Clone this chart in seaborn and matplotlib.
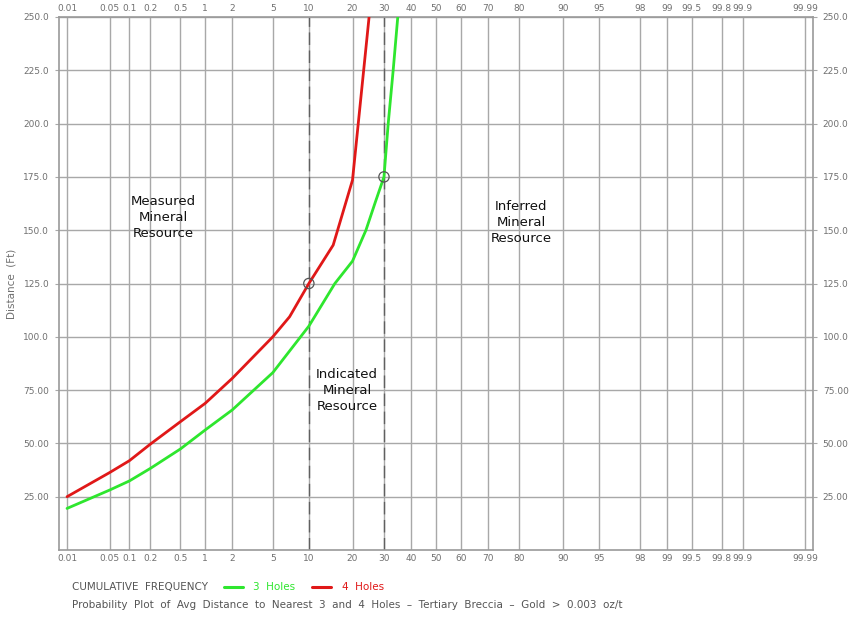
import numpy as np
import pandas as pd
import matplotlib
matplotlib.use("Agg")
import matplotlib.pyplot as plt
import seaborn as sns
from statistics import NormalDist

# ---- data ----
prob_ticks = [0.01, 0.05, 0.1, 0.2, 0.5, 1, 2, 5, 10, 20, 30, 40, 50, 60, 70, 80,
              90, 95, 98, 99, 99.5, 99.8, 99.9, 99.99]
prob_labels = ["0.01", "0.05", "0.1", "0.2", "0.5", "1", "2", "5", "10", "20", "30", "40",
               "50", "60", "70", "80", "90", "95", "98", "99", "99.5", "99.8", "99.9", "99.99"]
y_ticks = [25, 50, 75, 100, 125, 150, 175, 200, 225, 250]
y_labels = ["25.00", "50.00", "75.00", "100.0", "125.0", "150.0", "175.0", "200.0", "225.0", "250.0"]

green_pct = [0.01, 0.05, 0.1, 0.2, 0.5, 1, 2, 5, 10, 15.4, 20, 24, 27, 30, 31.5, 33.3, 35]
green_dist = [19.5, 28.1, 32.4, 38.3, 47.4, 56.3, 65.7, 83.2, 105, 125, 135.5, 150, 163, 175, 200, 225, 250]
red_pct = [0.01, 0.05, 0.1, 0.2, 0.5, 1, 2, 5, 7, 10, 15, 20, 25]
red_dist = [25, 36.3, 41.9, 49.7, 60.2, 68.8, 80.5, 100, 109.4, 125, 143, 173.5, 250]
marker_pct = [10, 30]
marker_dist = [125, 175]
boundary_pct = [10, 30]

zones = ["Measured\nMineral\nResource", "Indicated\nMineral\nResource", "Inferred\nMineral\nResource"]
zone_pct = [0.3, 18.5, 80.4]
zone_dist = [156, 75, 153.4]

df = pd.concat([
    pd.DataFrame({"pct": green_pct, "dist": green_dist, "series": "3 Holes"}),
    pd.DataFrame({"pct": red_pct, "dist": red_dist, "series": "4 Holes"}),
])

ND = NormalDist()
_ppf = np.vectorize(lambda p: ND.inv_cdf(p) if np.isfinite(p) else np.nan, otypes=[float])
_cdf = np.vectorize(lambda z: ND.cdf(z) if np.isfinite(z) else np.nan, otypes=[float])


def fwd(x):
    x = np.asarray(x, dtype=float)
    p = np.clip(x / 100.0, 1e-12, 1 - 1e-12)
    return _ppf(p)


def inv(z):
    return _cdf(np.asarray(z, dtype=float)) * 100.0


GREEN = "#2ee62e"
RED = "#e01818"
GRID = "#a8a8a8"
TXT = "#707070"

sns.set_theme(style="white")
plt.rcParams["font.family"] = ["DejaVu Sans"]

fig = plt.figure(figsize=(8.5, 6.23), dpi=100)
ax = fig.add_axes([59 / 850, 1 - 550 / 623, (813 - 59) / 850, (550 - 17) / 623])
ax.set_xscale("function", functions=(fwd, inv))
ax.set_xlim(inv(-3.8), inv(3.8))
ax.set_ylim(0, 250)

# grid
for p in prob_ticks:
    ax.axvline(p, color=GRID, lw=1.0, zorder=1)
for y in y_ticks:
    ax.axhline(y, color=GRID, lw=1.0, zorder=1)
for p in boundary_pct:
    ax.axvline(p, color="#606060", lw=1.0, ls=(0, (9, 4)), zorder=2)

sns.lineplot(data=df, x="pct", y="dist", hue="series",
             palette={"3 Holes": GREEN, "4 Holes": RED},
             lw=2, ax=ax, legend=False, sort=False, estimator=None, zorder=3)

ax.scatter(marker_pct, marker_dist, s=55, facecolors="none", edgecolors="#555555",
           linewidths=0.9, zorder=4)

for t, px, py in zip(zones, zone_pct, zone_dist):
    ax.text(px, py, t, ha="center", va="center", fontsize=9.5, color="#111111",
            linespacing=1.3, zorder=5)

ax.set_xticks(prob_ticks)
ax.set_xticklabels(prob_labels)
ax.xaxis.set_minor_locator(matplotlib.ticker.NullLocator())
ax.set_yticks(y_ticks)
ax.set_yticklabels(y_labels)
ax.tick_params(axis="x", which="both", top=True, labeltop=True, bottom=True, labelbottom=True,
               length=0, pad=3, labelsize=6.5, labelcolor=TXT)
ax.tick_params(axis="y", left=True, right=True, labelleft=True, labelright=True,
               length=3, width=0.8, color=GRID, pad=4, labelsize=6.5, labelcolor=TXT)
for s in ax.spines.values():
    s.set_color("#9a9a9a")
    s.set_linewidth(1.2)
ax.set_xlabel("")
ax.set_ylabel("Distance  (Ft)", fontsize=7.5, color=TXT, labelpad=5)

# bottom legend / title
fig.text(72 / 850, 1 - 587 / 623, "CUMULATIVE  FREQUENCY", fontsize=7.5, color="#555555",
         va="center", ha="left")
fig.add_artist(matplotlib.lines.Line2D([224 / 850, 243 / 850], [1 - 587 / 623] * 2,
                                       color=GREEN, lw=2.2))
fig.text(253 / 850, 1 - 587 / 623, "3  Holes", fontsize=7.5, color=GREEN, va="center", ha="left")
fig.add_artist(matplotlib.lines.Line2D([312 / 850, 331 / 850], [1 - 587 / 623] * 2,
                                       color=RED, lw=2.2))
fig.text(342 / 850, 1 - 587 / 623, "4  Holes", fontsize=7.5, color=RED, va="center", ha="left")
fig.text(72 / 850, 1 - 605 / 623,
         "Probability  Plot  of  Avg  Distance  to  Nearest  3  and  4  Holes  \u2013  Tertiary  Breccia  \u2013  Gold  >  0.003  oz/t",
         fontsize=7.5, color="#555555", va="center", ha="left")

fig.savefig("out.png", dpi=100)
